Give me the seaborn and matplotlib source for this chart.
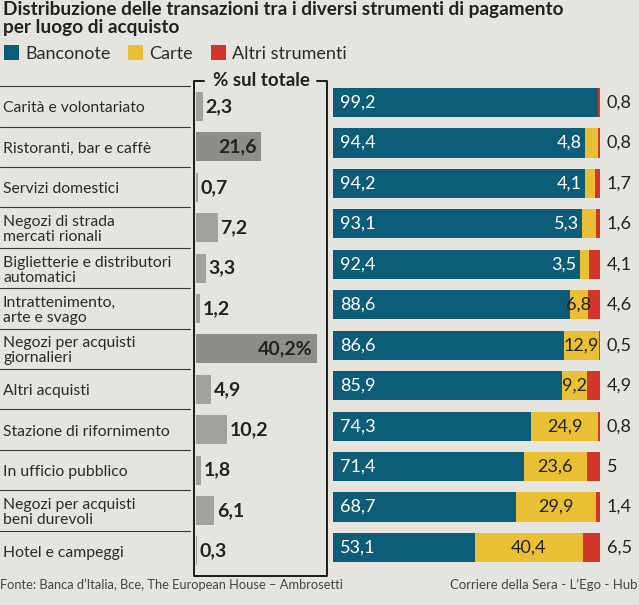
import matplotlib
matplotlib.use("Agg")
import matplotlib.pyplot as plt
import matplotlib.transforms as mtransforms
from matplotlib.patches import Rectangle
from matplotlib.lines import Line2D
import pandas as pd
import seaborn as sns

# DATA
luoghi = [
    "Carità e volontariato",
    "Ristoranti, bar e caffè",
    "Servizi domestici",
    "Negozi di strada\nmercati rionali",
    "Biglietterie e distributori\nautomatici",
    "Intrattenimento,\narte e svago",
    "Negozi per acquisti\ngiornalieri",
    "Altri acquisti",
    "Stazione di rifornimento",
    "In ufficio pubblico",
    "Negozi per acquisti\nbeni durevoli",
    "Hotel e campeggi",
]
quota_totale = [2.3, 21.6, 0.7, 7.2, 3.3, 1.2, 40.2, 4.9, 10.2, 1.8, 6.1, 0.3]
banconote = [99.2, 94.4, 94.2, 93.1, 92.4, 88.6, 86.6, 85.9, 74.3, 71.4, 68.7, 53.1]
carte = [0, 4.8, 4.1, 5.3, 3.5, 6.8, 12.9, 9.2, 24.9, 23.6, 29.9, 40.4]
altri = [0.8, 0.8, 1.7, 1.6, 4.1, 4.6, 0.5, 4.9, 0.8, 5, 1.4, 6.5]

serie_legenda = ["Banconote", "Carte", "Altri strumenti"]
titolo = ["Distribuzione delle transazioni tra i diversi strumenti di pagamento",
          "per luogo di acquisto"]
fonte = "Fonte: Banca d’Italia, Bce, The European House – Ambrosetti"
firma = "Corriere della Sera - L’Ego - Hub"

# STYLE
BG = "#e5e4df"
BLU = "#0d5d78"
GIALLO = "#e9c033"
ROSSO = "#d2352a"
GRIGIO = "#a4a39e"
GRIGIO_SCURO = "#8e8d88"
NERO = "#222222"

sns.set_theme(style="white")
plt.rcParams["font.family"] = ["Lato", "DejaVu Sans"]
plt.rcParams["figure.facecolor"] = BG

W, H = 639, 605
fig = plt.figure(figsize=(W / 100, H / 100), dpi=100)


def px_axes(left, top, width, height):
    return fig.add_axes([left / W, 1 - (top + height) / H, width / W, height / H])


def fx(x):
    return x / W


def fy(y):
    return 1 - y / H


def fmt(v):
    if v == int(v):
        return str(int(v))
    return f"{v:.1f}".replace(".", ",")


df = pd.DataFrame({
    "luogo": luoghi,
    "quota": quota_totale,
    "banconote": banconote,
    "carte": carte,
    "altri": altri,
})
df["banc_carte"] = df["banconote"] + df["carte"]
df["totale"] = df["banc_carte"] + df["altri"]
n = len(df)

# grey bars: share of total
ax_g = px_axes(196, 86.3, 129, 12 * 40.4)
colori_grigi = [GRIGIO_SCURO if q > 15 else GRIGIO for q in quota_totale]
sns.barplot(data=df, y="luogo", x="quota", hue="luogo", palette=colori_grigi,
            legend=False, orient="h", width=0.72, linewidth=0, ax=ax_g)
ax_g.set_xlim(0, 43)
ax_g.set_ylim(n - 0.5, -0.5)
ax_g.set_axis_off()

for i, q in enumerate(quota_totale):
    testo = fmt(q) + ("%" if q == max(quota_totale) else "")
    if q > 15:
        ax_g.text(q - 1.5, i, testo, ha="right", va="center", fontsize=14,
                  fontweight="bold", color=NERO)
    else:
        ax_g.text(q + 0.9, i, testo, ha="left", va="center", fontsize=14,
                  fontweight="bold", color=NERO)

# row labels + separators
trans = mtransforms.blended_transform_factory(fig.transFigure, ax_g.transData)
for i, lab in enumerate(luoghi):
    righe = lab.split("\n")
    if len(righe) == 1:
        offs = [6]
    else:
        offs = [-1.5, 13.5]
    for r, o in zip(righe, offs):
        ax_g.text(fx(3), i + o / 40.4, r, transform=trans, ha="left",
                  va="baseline", fontsize=11.3, color="#2b2b2b")
    ax_g.plot([0, fx(190)], [i - 0.5, i - 0.5], transform=trans,
              color="#3a3a3a", lw=0.8, clip_on=False)

# stacked bars
ax_s = px_axes(333, 82.3, 267, 12 * 40.45)
sns.barplot(data=df, y="luogo", x="totale", color=ROSSO, orient="h",
            width=0.72, linewidth=0, saturation=1, ax=ax_s)
sns.barplot(data=df, y="luogo", x="banc_carte", color=GIALLO, orient="h",
            width=0.72, linewidth=0, saturation=1, ax=ax_s)
sns.barplot(data=df, y="luogo", x="banconote", color=BLU, orient="h",
            width=0.72, linewidth=0, saturation=1, ax=ax_s)
ax_s.set_xlim(0, 100)
ax_s.set_ylim(n - 0.5, -0.5)
ax_s.set_axis_off()

for i in range(n):
    b, c, a = banconote[i], carte[i], altri[i]
    ax_s.text(2.5, i, fmt(b), ha="left", va="center", fontsize=13, color="white")
    if c > 0:
        if c < 6:
            ax_s.text(b - 1.1, i, fmt(c), ha="right", va="center",
                      fontsize=13, color="white")
        else:
            ax_s.text(b + c / 2, i, fmt(c), ha="center", va="center",
                      fontsize=13, color=NERO)
    ax_s.text(102.6, i, fmt(a), ha="left", va="center", fontsize=13,
              color=NERO, clip_on=False)

# title
fig.text(fx(3), fy(15), titolo[0], ha="left", va="baseline", fontsize=13.7,
         fontweight="bold", color=NERO)
fig.text(fx(3), fy(33), titolo[1], ha="left", va="baseline", fontsize=13.7,
         fontweight="bold", color=NERO)

# legend
leg_x = [4, 128, 211]
for x0, nome, col in zip(leg_x, serie_legenda, [BLU, GIALLO, ROSSO]):
    fig.add_artist(Rectangle((fx(x0), fy(60)), 15 / W, 15 / H,
                             transform=fig.transFigure, color=col, lw=0))
    fig.text(fx(x0 + 21), fy(59), nome, ha="left", va="baseline",
             fontsize=13, color="#2b2b2b")

# bracket "% sul totale"
def fline(xs, ys, lw=1.4):
    fig.add_artist(Line2D([fx(x) for x in xs], [fy(y) for y in ys],
                          transform=fig.transFigure, color="#1a1a1a", lw=lw))


fline([204, 194, 194, 327, 327, 317], [81, 81, 576, 576, 81, 81])
fig.text(fx(261), fy(80), "% sul totale", ha="center", va="center",
         fontsize=13.5, fontweight="bold", color=NERO)

# footer
fig.text(fx(0), fy(589), fonte, ha="left", va="baseline", fontsize=9.3,
         color="#454545")
fig.text(fx(637), fy(589), firma, ha="right", va="baseline", fontsize=9.5,
         color="#454545")

fig.savefig("out.png", dpi=100, facecolor=BG)
